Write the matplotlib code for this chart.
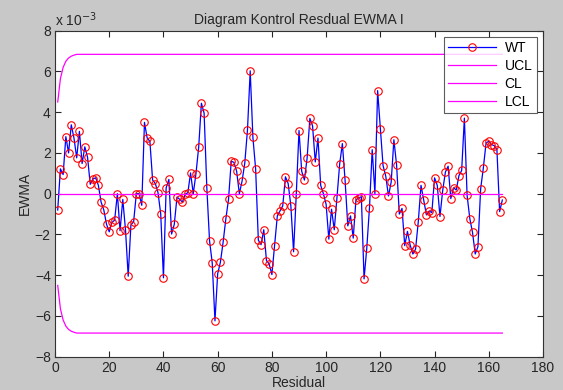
import numpy as np
import matplotlib
matplotlib.use("Agg")
import matplotlib.pyplot as plt

plt.rcParams['font.family'] = ['Liberation Sans', 'DejaVu Sans']

# EWMA values (x 1e-3), observations 1..165
wt = [-0.8, 1.22, 0.94, 2.8, 2.0, 3.38, 2.73, 1.76, 3.06, 1.48,
      2.3, 1.79, 0.46, 0.73, 0.78, 0.41, -0.41, -0.8, -1.5, -1.87,
      -1.41, -1.3, 0.0, -1.82, -0.28, -1.77, -4.05, -1.53, -1.38, 0.0,
      0.0, -0.57, 3.5, 2.73, 2.57, 0.67, 0.5, 0.05, -1.0, -4.13,
      0.29, 0.7, -1.98, -1.5, -0.16, -0.28, -0.41, -0.03, 0.05, 1.02,
      0.0, 0.99, 2.29, 4.44, 3.95, 0.29, -2.31, -3.4, -6.24, -3.93,
      -3.37, -2.39, -1.25, -0.28, 1.59, 1.54, 1.1, 0.0, 0.62, 1.5,
      3.14, 6.03, 2.76, 1.22, -2.28, -2.5, -1.77, -3.28, -3.45, -3.97,
      -2.55, -1.09, -0.85, -0.6, 0.83, 0.5, -0.6, -2.85, 0.0, 3.1,
      1.1, 0.67, 1.76, 3.7, 3.33, 1.56, 2.73, 0.41, 0.0, -0.52,
      -2.23, -0.76, -1.77, -0.2, 1.46, 2.46, 0.65, -1.58, -1.09, -2.18,
      -0.31, -0.2, -0.15, -4.18, -2.67, -0.68, 2.16, 0.0, 5.06, 3.19,
      1.38, 0.86, -0.11, 0.57, 2.65, 1.4, -1.0, -0.72, -2.55, -1.85,
      -2.52, -2.96, -2.72, -1.37, 0.41, -0.31, -1.04, -0.85, -0.93, 0.78,
      0.41, -1.12, 0.16, 1.06, 1.35, -0.24, 0.29, 0.18, 0.89, 1.14,
      3.71, -0.08, -1.22, -1.9, -2.96, -2.6, 0.24, 1.27, 2.49, 2.57,
      2.41, 2.36, 2.16, -0.88, -0.31]
obs = np.arange(1, len(wt) + 1)

# control limit values (x 1e-3): start-up part then steady value
ucl_start = [4.5, 5.65, 6.2, 6.5, 6.66, 6.75, 6.8]
ucl_steady = 6.84
cl_value = 0.0

ucl = np.array(ucl_start + [ucl_steady] * (len(wt) - len(ucl_start)))
lcl = -ucl
cl = np.full(len(wt), cl_value)

W, H = 563, 390
fig = plt.figure(figsize=(W/100, H/100), dpi=100, facecolor='#c8c8c8')
ax = fig.add_axes([55/W, 1 - 356.7/H, (543-55)/W, (356.7-30.7)/H])
ax.set_facecolor('white')

ax.plot(obs, wt, color='#0000ff', lw=0.9, marker='o', ms=5.4,
        mfc='none', mec='#ff0000', mew=0.8, label='WT')
ax.plot(obs, ucl, color='#ff00ff', lw=0.9, label='UCL')
ax.plot(obs, cl, color='#ff00ff', lw=0.9, label='CL')
ax.plot(obs, lcl, color='#ff00ff', lw=0.9, label='LCL')

ax.set_xlim(0, 180)
ax.set_ylim(-8, 8)
ax.set_xticks(np.arange(0, 181, 20))
ax.set_yticks(np.arange(-8, 9, 2))
ax.tick_params(direction='in', top=True, right=True, length=4, width=0.8,
               labelsize=10, pad=3, colors='#262626')
for s in ax.spines.values():
    s.set_linewidth(0.8)
    s.set_color('#333333')

fs = 10
ax.set_title('Diagram Kontrol Resdual EWMA I', fontsize=fs, pad=5, color='#262626')
ax.set_xlabel('Residual', fontsize=fs, labelpad=1, color='#262626')
ax.set_ylabel('EWMA', fontsize=fs, labelpad=2, color='#262626')
ax.text(0.0, 1.005, r'x 10$^{-3}$', transform=ax.transAxes, fontsize=fs,
        ha='left', va='bottom', color='#262626')

leg = ax.legend(loc='upper right', fontsize=fs, handlelength=3.5,
                frameon=True, fancybox=False, edgecolor='#333333',
                borderaxespad=0.45, labelspacing=0.28, handletextpad=0.6,
                borderpad=0.3)
leg.get_frame().set_linewidth(0.8)

fig.savefig('out.png', dpi=100, facecolor=fig.get_facecolor())
